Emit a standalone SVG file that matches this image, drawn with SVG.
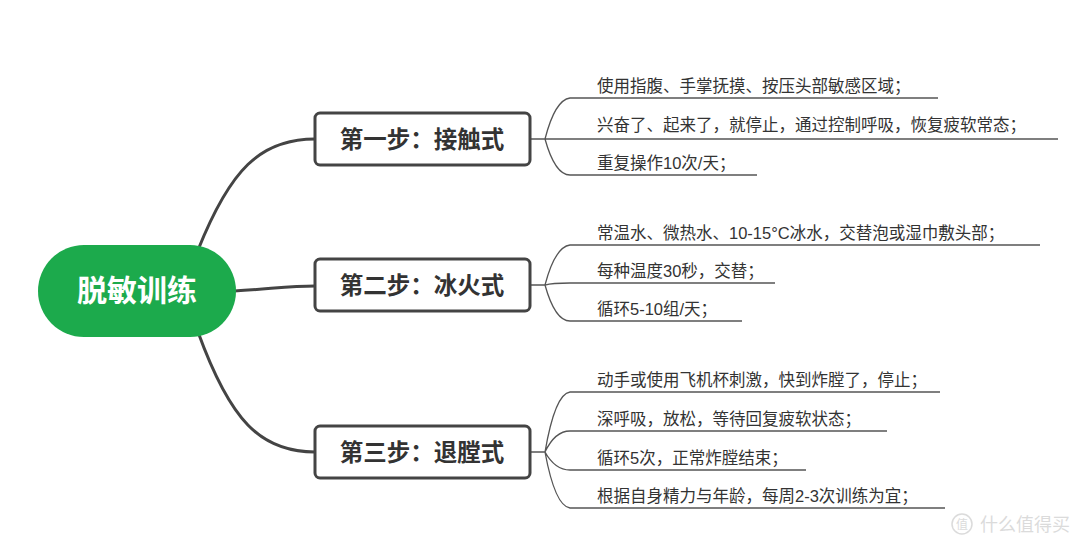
<svg xmlns="http://www.w3.org/2000/svg" width="1080" height="546" viewBox="0 0 1080 546">
<style>
.step{fill:#fff;stroke:#444;stroke-width:3}
.st{font-family:"Liberation Sans","Noto Sans CJK SC",sans-serif;font-size:23.5px;font-weight:bold;fill:#333;text-anchor:middle}
.lf{font-family:"Liberation Sans","Noto Sans CJK SC",sans-serif;font-size:16.5px;fill:#333}
.c{fill:none;stroke:#444;stroke-width:3}
.t{fill:none;stroke:#555;stroke-width:1.3}
</style>
<rect width="1080" height="546" fill="#fff"/>
<g id="connectors">
<path class="c" d="M198,250 C230,170 260,139 315,139"/>
<path class="c" d="M234,291 C270,289 290,286 315,286"/>
<path class="c" d="M198,332 C230,420 260,452 315,452"/>
<path class="t" d="M530,139 H545 M545,139 Q555,100 570,98 H938 M545,139 H1058 M545,139 Q555,175 570,175 H757"/>
<path class="t" d="M530,285 H545 M545,285 Q555,247 570,245 H1040 M545,285 Q552,283 570,283 H775 M545,285 Q555,321 570,321 H742"/>
<path class="t" d="M530,452 H545 M545,452 Q555,394 570,392 H940 M545,452 Q555,431 570,431 H887 M545,452 Q555,470 570,470 H806 M545,452 Q555,506 570,508 H945"/>
</g>
<g id="root">
<rect x="38" y="245" width="198" height="92" rx="46" fill="#1caa4c"/>
<text x="137" y="301" font-family="'Liberation Sans','Noto Sans CJK SC',sans-serif" font-size="30" font-weight="bold" fill="#fff" text-anchor="middle">脱敏训练</text>
</g>
<g id="step1"><rect class="step" x="315" y="113" width="215" height="52" rx="5"/><text class="st" x="422" y="148">第一步：接触式</text></g>
<g id="step2"><rect class="step" x="315" y="259" width="215" height="52" rx="5"/><text class="st" x="422" y="294">第二步：冰火式</text></g>
<g id="step3"><rect class="step" x="315" y="426" width="215" height="52" rx="5"/><text class="st" x="422" y="461">第三步：退膛式</text></g>
<g id="leaves">
<text class="lf" x="597" y="92">使用指腹、手掌抚摸、按压头部敏感区域；</text>
<text class="lf" x="597" y="131">兴奋了、起来了，就停止，通过控制呼吸，恢复疲软常态；</text>
<text class="lf" x="597" y="169">重复操作10次/天；</text>
<text class="lf" x="597" y="239">常温水、微热水、10-15°C冰水，交替泡或湿巾敷头部；</text>
<text class="lf" x="597" y="277">每种温度30秒，交替；</text>
<text class="lf" x="597" y="315">循环5-10组/天；</text>
<text class="lf" x="597" y="386">动手或使用飞机杯刺激，快到炸膛了，停止；</text>
<text class="lf" x="597" y="425">深呼吸，放松，等待回复疲软状态；</text>
<text class="lf" x="597" y="464">循环5次，正常炸膛结束；</text>
<text class="lf" x="597" y="502">根据自身精力与年龄，每周2-3次训练为宜；</text>
</g>
<g id="watermark" opacity="0.35">
<circle cx="962" cy="524" r="10" fill="none" stroke="#999" stroke-width="1.5"/>
<text x="962" y="529" font-family="'Noto Sans CJK SC',sans-serif" font-size="12" fill="#999" text-anchor="middle">值</text>
<text x="980" y="531" font-family="'Noto Sans CJK SC',sans-serif" font-size="18" fill="#999">什么值得买</text>
</g>
</svg>
